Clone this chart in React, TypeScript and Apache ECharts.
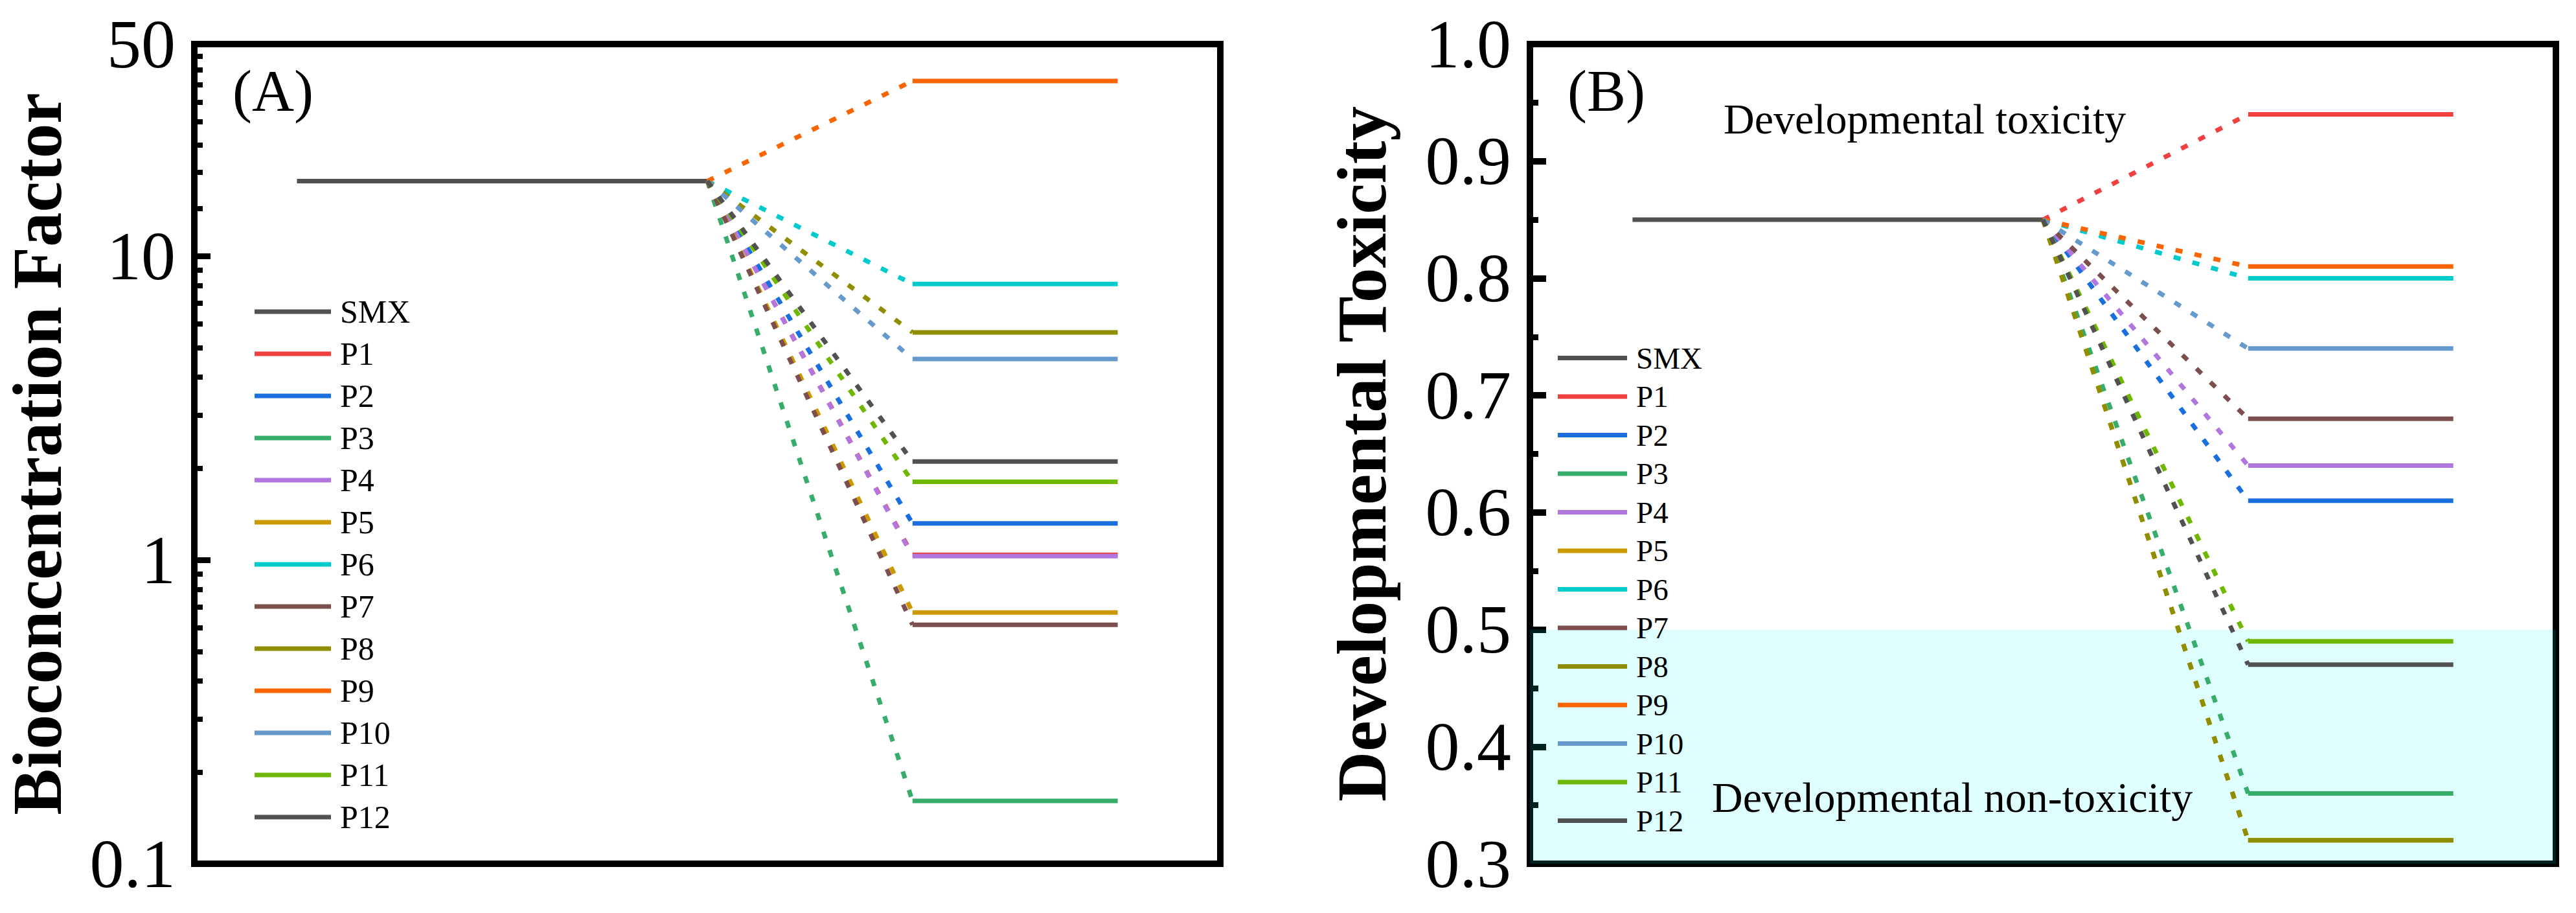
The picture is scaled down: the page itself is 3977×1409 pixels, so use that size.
import { useEffect, useRef } from "react";
import * as echarts from "echarts";

const compounds = ["SMX", "P1", "P2", "P3", "P4", "P5", "P6", "P7", "P8", "P9", "P10", "P11", "P12"];
const colors = [
  "#515151", "#F14040", "#1A6FDF", "#37AD6B", "#B177DE", "#CC9900", "#00CBCC",
  "#7D4E4E", "#8E8E00", "#FB6501", "#6699CC", "#6FB802", "#515151",
];

// (A) bioconcentration factor, log scale
const bcfValues = [17.7, 1.04, 1.32, 0.161, 1.03, 0.672, 8.11, 0.612, 5.62, 37.8, 4.59, 1.81, 2.11];
const bcfLabels = [0.1, 1, 10, 50];
const bcfMinorTicks = [
  0.2, 0.3, 0.4, 0.5, 0.6, 0.7, 0.8, 0.9,
  2, 3, 4, 5, 6, 7, 8, 9,
  14.4, 18.9, 23.3, 27.8, 32.2, 36.7, 41.1, 45.6,
];

// (B) developmental toxicity
const toxValues = [0.85, 0.94, 0.61, 0.36, 0.64, 0.32, 0.8, 0.68, 0.32, 0.81, 0.74, 0.49, 0.47];
const toxMin = 0.3;
const toxMax = 1.0;
const toxicThreshold = 0.5;

// level layout along the hidden x axis
const X_MIN = 0;
const X_MAX = 10;
const SMX_START = 1;
const SMX_END = 5;
const PROD_START = 7;
const PROD_END = 9;

const FONT = "'Liberation Serif', 'Times New Roman', serif";
const LINE_W = 7;

const levelSeries = (values: number[], axisIndex: number, yAxisIndex: number) => {
  const out: any[] = [];
  const smx = values[0];
  compounds.forEach((name, i) => {
    const base = {
      name,
      type: "line",
      xAxisIndex: axisIndex,
      yAxisIndex,
      symbol: "none",
      color: colors[i],
      silent: true,
    };
    if (i === 0) {
      out.push({ ...base, data: [[SMX_START, smx], [SMX_END, smx]], lineStyle: { width: LINE_W } });
      return;
    }
    out.push({ ...base, data: [[PROD_START, values[i]], [PROD_END, values[i]]], lineStyle: { width: LINE_W } });
    out.push({
      ...base,
      data: [[SMX_END, smx], [PROD_START, values[i]]],
      lineStyle: { width: LINE_W, type: [11, 19] },
    });
  });
  return out;
};

const legendBase = {
  orient: "vertical",
  icon: "rect",
  padding: 0,
  itemHeight: 7,
  data: compounds,
  selectedMode: false,
};

const axisLine = { show: true, onZero: false, lineStyle: { width: 10, color: "#000" } };
const nameStyle = { fontSize: 107, fontWeight: "bold", fontFamily: FONT, color: "#000" };
const labelStyle = { fontSize: 106, fontFamily: FONT, color: "#000", margin: 29 };

const App = () => {
  const chartRef = useRef(null);

  useEffect(() => {
    document.body.style.margin = "0";
    if (!chartRef.current) return;
    const chart = echarts.init(chartRef.current, null, { renderer: "svg" });

    const option = {
      animation: false,
      textStyle: { fontFamily: FONT },
      grid: [
        { left: 300, top: 68, width: 1584, height: 1265, show: true, borderWidth: 10, borderColor: "#000" },
        { left: 2362, top: 68, width: 1584, height: 1265, show: true, borderWidth: 10, borderColor: "#000" },
      ],
      xAxis: [
        { type: "value", gridIndex: 0, min: X_MIN, max: X_MAX, show: false },
        { type: "value", gridIndex: 1, min: X_MIN, max: X_MAX, show: false },
      ],
      yAxis: [
        {
          type: "log",
          logBase: 10,
          gridIndex: 0,
          position: "left",
          min: 0.1,
          max: 50,
          name: "Bioconcentration Factor",
          nameLocation: "middle",
          nameGap: 189,
          nameMoveOverlap: false,
          nameTextStyle: nameStyle,
          axisLine,
          splitLine: { show: false },
          axisTick: {
            show: true,
            inside: true,
            length: 25,
            customValues: bcfLabels,
            lineStyle: { width: 9, color: "#000" },
          },
          axisLabel: {
            ...labelStyle,
            customValues: bcfLabels,
            formatter: (v: number) => String(+v.toPrecision(3)),
          },
        },
        {
          // minor ticks of the log axis
          type: "log",
          logBase: 10,
          gridIndex: 0,
          position: "left",
          min: 0.1,
          max: 50,
          axisLine,
          splitLine: { show: false },
          axisLabel: { show: false },
          axisTick: {
            show: true,
            inside: true,
            length: 13,
            customValues: bcfMinorTicks,
            lineStyle: { width: 8, color: "#000" },
          },
        },
        {
          type: "value",
          gridIndex: 1,
          position: "left",
          min: toxMin,
          max: toxMax,
          interval: 0.1,
          name: "Developmental Toxicity",
          nameLocation: "middle",
          nameGap: 206,
          nameMoveOverlap: false,
          nameTextStyle: nameStyle,
          axisLine,
          splitLine: { show: false },
          axisTick: { show: true, inside: true, length: 25, lineStyle: { width: 10, color: "#000" } },
          minorTick: { show: true, splitNumber: 2, length: 13, lineStyle: { width: 9, color: "#000" } },
          axisLabel: {
            ...labelStyle,
            formatter: (v: number) => v.toFixed(1),
            showMinLabel: true,
            showMaxLabel: true,
          },
        },
      ],
      legend: [
        {
          ...legendBase,
          left: 393,
          top: 456,
          itemWidth: 118,
          itemGap: 15,
          textStyle: { fontSize: 50, lineHeight: 50, fontFamily: FONT, color: "#000", padding: [0, 0, 0, 9] },
        },
        {
          ...legendBase,
          left: 2405,
          top: 529,
          itemWidth: 107,
          itemGap: 12.5,
          textStyle: { fontSize: 47, lineHeight: 47, fontFamily: FONT, color: "#000", padding: [0, 0, 0, 9] },
        },
      ],
      graphic: {
        elements: [
          { type: "text", x: 359, y: 140, z: 100, style: { text: "(A)", font: `90px ${FONT}`, fill: "#000", verticalAlign: "middle" } },
          { type: "text", x: 2420, y: 140, z: 100, style: { text: "(B)", font: `90px ${FONT}`, fill: "#000", verticalAlign: "middle" } },
          {
            type: "text", x: 2661, y: 183, z: 100,
            style: { text: "Developmental toxicity", font: `66px ${FONT}`, fill: "#000", verticalAlign: "middle" },
          },
          {
            type: "text", x: 2643, y: 1230, z: 100,
            style: { text: "Developmental non-toxicity", font: `66px ${FONT}`, fill: "#000", verticalAlign: "middle" },
          },
        ],
      },
      series: [
        ...levelSeries(bcfValues, 0, 0),
        ...levelSeries(toxValues, 1, 2),
        {
          // shaded "non-toxic" band, drawn over the lines
          type: "line",
          xAxisIndex: 1,
          yAxisIndex: 2,
          symbol: "none",
          silent: true,
          z: 10,
          data: [],
          markArea: {
            silent: true,
            itemStyle: { color: "rgba(0,255,255,0.125)" },
            data: [[{ xAxis: X_MIN, yAxis: toxMin }, { xAxis: X_MAX, yAxis: toxicThreshold }]],
          },
        },
      ],
    };

    chart.setOption(option as any);
    return () => {
      chart.dispose();
    };
  }, []);

  return <div ref={chartRef} style={{ width: 3977, height: 1409 }} />;
};

export default App;
